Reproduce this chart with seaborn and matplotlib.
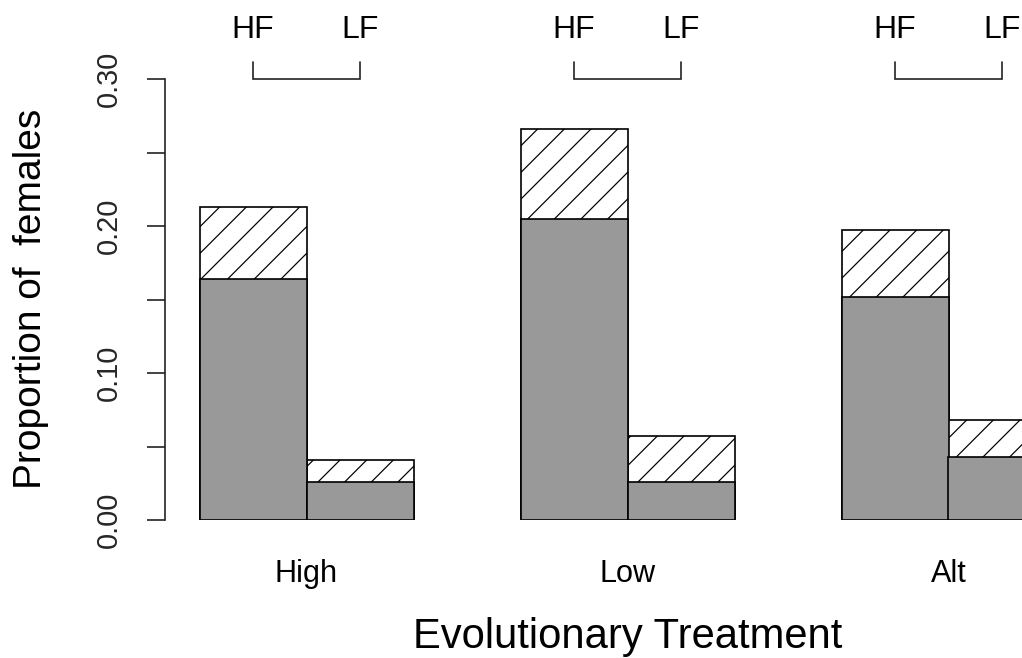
import matplotlib
matplotlib.use("Agg")
import matplotlib.pyplot as plt
import numpy as np
import pandas as pd
import seaborn as sns

# ---- data -------------------------------------------------------------
treatments = ["High", "Low", "Alt"]
female_class = ["HF", "LF"]
# solid (lower) part of each bar, ordered High-HF, High-LF, Low-HF, ...
solid_part = [0.164, 0.026, 0.205, 0.026, 0.152, 0.043]
# hatched (upper) part stacked on top of the solid part
hatched_part = [0.049, 0.015, 0.061, 0.031, 0.045, 0.025]
y_ticks = [0.00, 0.05, 0.10, 0.15, 0.20, 0.25, 0.30]
y_tick_labels = ["0.00", "", "0.10", "", "0.20", "", "0.30"]

df = pd.DataFrame({
    "treatment": np.repeat(treatments, len(female_class)),
    "group": female_class * len(treatments),
    "solid": solid_part,
    "hatched": hatched_part,
})
df["total"] = df["solid"] + df["hatched"]

# ---- figure -----------------------------------------------------------
DPI = 160
W, H = 1022, 658
sns.set_style("white")
plt.rcParams["font.family"] = ["Liberation Sans", "DejaVu Sans"]
plt.rcParams["hatch.linewidth"] = 0.55
plt.rcParams["hatch.color"] = "#333333"

fig = plt.figure(figsize=(W / DPI, H / DPI), dpi=DPI)
ax_left, ax_right, ax_top, ax_bottom = 165, 1022, 79, 520
ax = fig.add_axes([ax_left / W, 1 - ax_bottom / H,
                   (ax_right - ax_left) / W, (ax_bottom - ax_top) / H])

edge_lw = 0.75
# total bar, hatched
sns.barplot(data=df, x="treatment", y="total", hue="group", order=treatments,
            hue_order=female_class, width=2 / 3, gap=0, dodge=True,
            palette=["white", "white"], edgecolor="black", linewidth=edge_lw,
            hatch="//", legend=False, errorbar=None, ax=ax)
# solid lower portion drawn over it
sns.barplot(data=df, x="treatment", y="solid", hue="group", order=treatments,
            hue_order=female_class, width=2 / 3, gap=0, dodge=True,
            palette=["#999999", "#999999"], edgecolor="black", linewidth=edge_lw,
            legend=False, errorbar=None, ax=ax)

# axes limits: one category unit spans 321 px, first group centre at 306.5 px
unit = 321.0
x0 = 306.5
ax.set_xlim((ax_left - x0) / unit, (ax_right - x0) / unit)
ax.set_ylim(0, 0.30)

for s in ["top", "right", "bottom"]:
    ax.spines[s].set_visible(False)
ax.spines["left"].set_color("#222222")
ax.spines["left"].set_linewidth(0.75)
ax.spines["left"].set_bounds(0, 0.30)

ax.set_yticks(y_ticks)
ax.set_yticklabels(y_tick_labels, rotation=90, va="center")
ax.tick_params(axis="y", direction="out", length=8.1, width=0.75,
               color="#222222", pad=11, labelsize=13, left=True)
ax.set_xticks([])
ax.set_xlabel("")
ax.set_ylabel("")

# category labels beneath each group
xform = ax.get_xaxis_transform()
for i, name in enumerate(treatments):
    ax.text(i, (ax_bottom - 582) / (ax_bottom - ax_top), name, transform=xform,
            ha="center", va="baseline", fontsize=13.8, color="black")

# HF / LF labels and connecting brackets above each group
half = 1 / 6
y_lab = (ax_bottom - 38) / (ax_bottom - ax_top)
y_br_top = (ax_bottom - 62) / (ax_bottom - ax_top)
for i in range(len(treatments)):
    xs = [i - half, i + half]
    for xx, lab in zip(xs, female_class):
        ax.text(xx, y_lab, lab, transform=xform, ha="center", va="baseline",
                fontsize=14.4, color="black", clip_on=False)
    ax.plot([xs[0], xs[0], xs[1], xs[1]], [y_br_top, 1.0, 1.0, y_br_top],
            transform=xform, color="#222222", lw=0.75, clip_on=False,
            solid_joinstyle="miter")

# axis titles
fig.text(31 / W, 1 - 299 / H, "Proportion of  females", rotation=90,
         ha="center", va="center", fontsize=17.5, color="black")
fig.text(627.5 / W, 1 - 648 / H, "Evolutionary Treatment",
         ha="center", va="baseline", fontsize=18.8, color="black")

fig.savefig("out.png", dpi=DPI)
